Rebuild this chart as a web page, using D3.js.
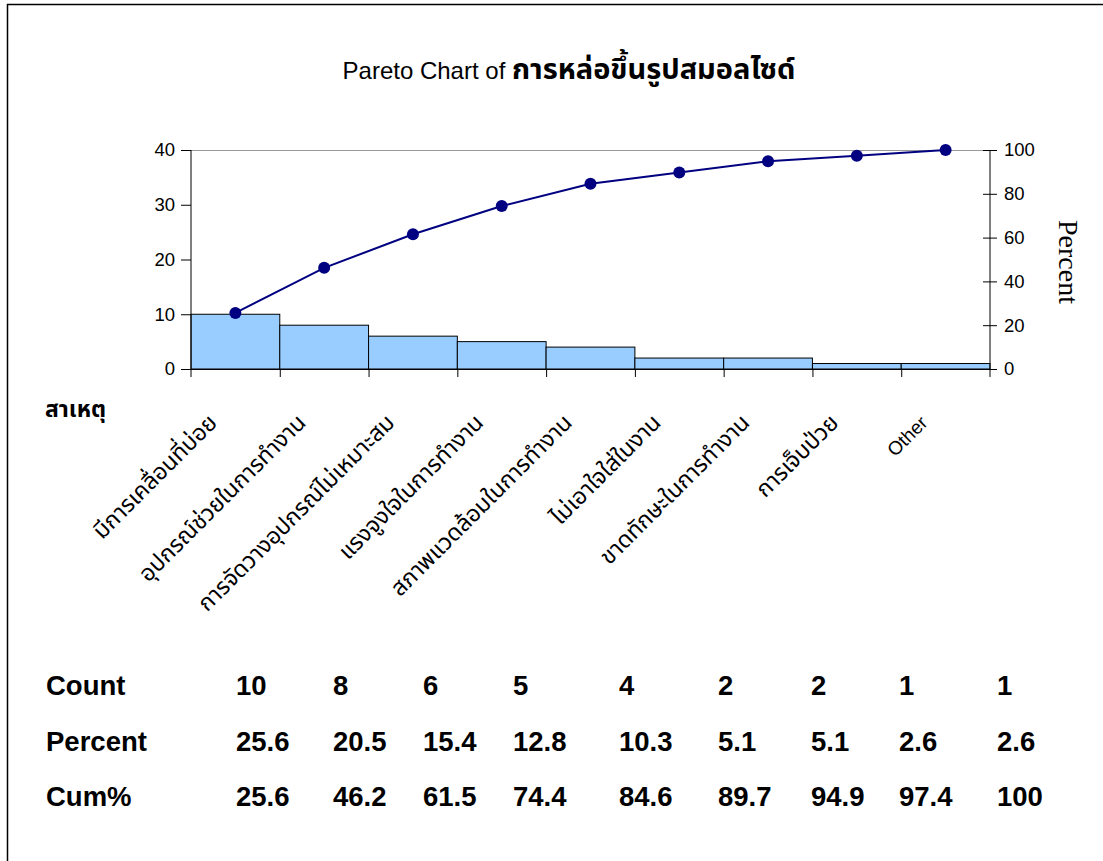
<!DOCTYPE html>
<html><head><meta charset="utf-8">
<script src="https://cdnjs.cloudflare.com/ajax/libs/d3/7.8.5/d3.min.js"></script>
<style>
html,body{margin:0;padding:0;background:#fff;}
svg{display:block;}
</style></head>
<body>
<script>
const categories = ["มีการเคลื่อนที่บ่อย","อุปกรณ์ช่วยในการทำงาน","การจัดวางอุปกรณ์ไม่เหมาะสม","แรงจูงใจในการทำงาน","สภาพแวดล้อมในการทำงาน","ไม่เอาใจใส่ในงาน","ขาดทักษะในการทำงาน","การเจ็บป่วย","Other"];
const counts = [10, 8, 6, 5, 4, 2, 2, 1, 1];
const percents = ["25.6","20.5","15.4","12.8","10.3","5.1","5.1","2.6","2.6"];
const cumPercents = [25.6, 46.2, 61.5, 74.4, 84.6, 89.7, 94.9, 97.4, 100];
const countTicks = [0, 10, 20, 30, 40];
const percentTicks = [0, 20, 40, 60, 80, 100];
const rowLabels = ["Count", "Percent", "Cum%"];
const titleLatin = "Pareto Chart of ";
const titleThai = "การหล่อขึ้นรูปสมอลไซด์";

const W = 1103, H = 861;
const svg = d3.select("body").append("svg").attr("width", W).attr("height", H);
const thaiFont = "Tahoma, 'Noto Sans Thai', 'Noto Sans', 'DejaVu Sans', sans-serif";
const armFont = "Arial, 'Liberation Sans', sans-serif";

// frame
svg.append("path").attr("d", `M7.5,${H}V4.5H${W}`).attr("fill","none").attr("stroke","#000").attr("stroke-width",1.5);

const L = 191, R = 990, T = 150, B = 369;
const x = d3.scaleBand().domain(categories).range([L, R]).padding(0);
const yL = d3.scaleLinear().domain([0, 40]).range([B, T]);
const yR = d3.scaleLinear().domain([0, 100]).range([B, T]);

// title
const title = svg.append("text").attr("x", 569).attr("y", 79).attr("text-anchor","middle").attr("fill","#000");
title.append("tspan").attr("font-family", armFont).attr("font-size", 24).text(titleLatin);
title.append("tspan").attr("font-family", thaiFont).attr("font-size", 29).attr("font-weight","bold").text(titleThai);

// plot top border
svg.append("line").attr("x1",L).attr("x2",R).attr("y1",T+0.5).attr("y2",T+0.5).attr("stroke","#999").attr("stroke-width",1);

// bars
svg.append("g").selectAll("rect").data(counts).join("rect")
  .attr("x",(d,i)=>x(categories[i])).attr("width",x.bandwidth())
  .attr("y",d=>yL(d)).attr("height",d=>B-yL(d))
  .attr("fill","#99CCFF").attr("stroke","#000").attr("stroke-width",1);

// left axis
const gl = svg.append("g").attr("transform",`translate(${L},0)`)
  .call(d3.axisLeft(yL).tickValues(countTicks).tickSize(10).tickPadding(6));
gl.selectAll("text").attr("font-family",armFont).attr("font-size",18.5).attr("fill","#000");
gl.selectAll("path,line").attr("stroke","#000");
gl.select(".domain").attr("d",`M0,${T}V${B+8}`);

// right axis
const gr = svg.append("g").attr("transform",`translate(${R},0)`)
  .call(d3.axisRight(yR).tickValues(percentTicks).tickSize(7).tickPadding(7));
gr.selectAll("text").attr("font-family",armFont).attr("font-size",18.5).attr("fill","#000");
gr.selectAll("path,line").attr("stroke","#000");
gr.selectAll(".tick line").attr("x1",-7);
gr.select(".domain").attr("d",`M0,${T}V${B+8}`);

// bottom axis line and ticks at band edges
svg.append("line").attr("x1",L).attr("x2",R).attr("y1",B+0.5).attr("y2",B+0.5).attr("stroke","#000");
svg.append("g").selectAll("line").data(categories.slice(1)).join("line")
  .attr("x1",d=>x(d)+0.5).attr("x2",d=>x(d)+0.5).attr("y1",B).attr("y2",B+8).attr("stroke","#000");

// right label
svg.append("text").attr("transform",`translate(1059,262) rotate(90)`).attr("text-anchor","middle")
  .attr("font-family","'Times New Roman','Liberation Serif',serif").attr("font-size",28).text("Percent");

// cumulative line
const cx = (d,i)=>x(categories[i]) + x.bandwidth()/2;
svg.append("path").datum(cumPercents)
  .attr("d", d3.line().x(cx).y(d=>yR(d)))
  .attr("fill","none").attr("stroke","#000080").attr("stroke-width",2);
svg.append("g").selectAll("circle").data(cumPercents).join("circle")
  .attr("cx",cx).attr("cy",d=>yR(d)).attr("r",6).attr("fill","#000080");

// x axis title
svg.append("text").attr("x",45).attr("y",417).attr("font-family",thaiFont).attr("font-size",23).attr("font-weight","bold").text("สาเหตุ");

// category labels
svg.append("g").selectAll("text").data(categories).join("text")
  .attr("transform",(d,i)=>`translate(${cx(d,i)-17},${424}) rotate(-45)`)
  .attr("text-anchor","end")
  .attr("font-family",(d)=> d==="Other" ? armFont : thaiFont)
  .attr("font-size",(d)=> d==="Other" ? 19 : 23).text(d=>d);

// table
const colX = [236, 333, 423, 513, 619, 718, 811, 899, 997];
const rowY = [695, 751, 806];
const rows = [counts.map(String), percents, cumPercents.map(v=>String(v))];
const tg = svg.append("g").attr("font-family",armFont).attr("font-weight","bold").attr("font-size",27.5).attr("fill","#000");
rowLabels.forEach((lab, r)=>{
  tg.append("text").attr("x",46).attr("y",rowY[r]).text(lab);
  tg.selectAll(null).data(rows[r]).join("text").attr("x",(d,i)=>colX[i]).attr("y",rowY[r]).text(d=>d);
});
</script>
</body></html>
